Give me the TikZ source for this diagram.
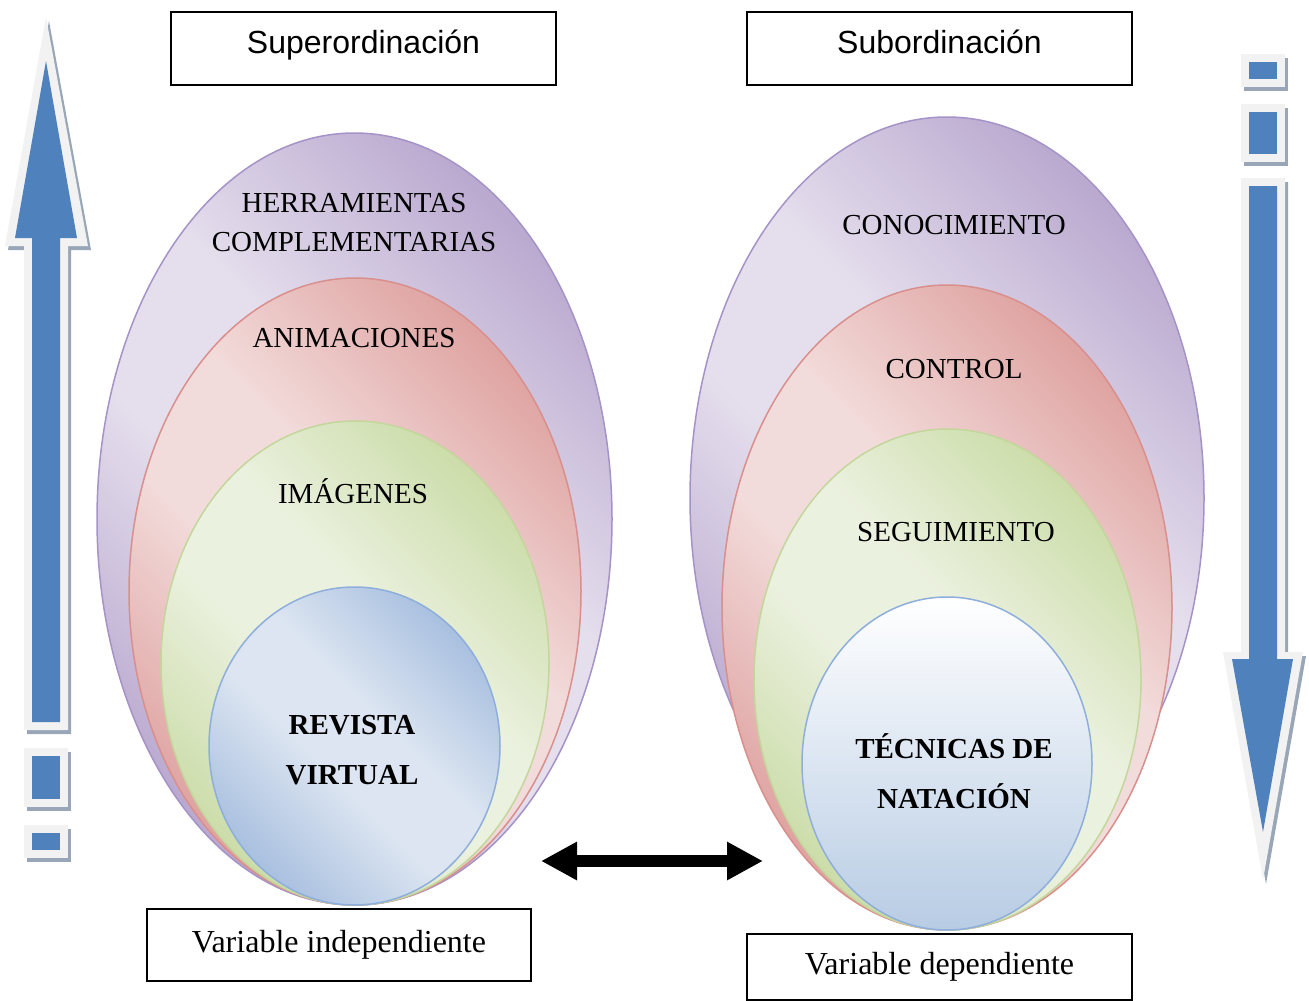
\documentclass[tikz,border=0pt]{standalone}
\usepackage{fontspec}
\setmainfont{Liberation Serif}
\setsansfont{Liberation Sans}
\usetikzlibrary{arrows.meta}

\definecolor{purplight}{HTML}{E5DFED}
\definecolor{purpdark}{HTML}{BBAAD0}
\definecolor{purpline}{HTML}{A593C7}
\definecolor{redlight}{HTML}{F2DCDB}
\definecolor{reddark}{HTML}{DFA4A2}
\definecolor{redline}{HTML}{D98F8C}
\definecolor{greenlight}{HTML}{EBF1DF}
\definecolor{greendark}{HTML}{CCDDAA}
\definecolor{greenline}{HTML}{C3D69B}
\definecolor{bluelight}{HTML}{DCE5F1}
\definecolor{bluedark}{HTML}{A9C0E0}
\definecolor{blueline}{HTML}{8EAEDB}
\definecolor{bluebottom}{HTML}{B8CCE4}
\definecolor{arrowblue}{HTML}{4F81BD}
\definecolor{arrowrim}{HTML}{F2F2F2}
\definecolor{arrowshadow}{HTML}{98A6B8}

\pgfdeclarehorizontalshading{purpshade}{100bp}{color(0bp)=(purpdark); color(25bp)=(purpdark); color(44bp)=(purplight); color(56bp)=(purplight); color(75bp)=(purpdark); color(100bp)=(purpdark)}
\pgfdeclarehorizontalshading{redshade}{100bp}{color(0bp)=(reddark); color(25bp)=(reddark); color(44bp)=(redlight); color(56bp)=(redlight); color(75bp)=(reddark); color(100bp)=(reddark)}
\pgfdeclarehorizontalshading{greenshade}{100bp}{color(0bp)=(greendark); color(25bp)=(greendark); color(44bp)=(greenlight); color(56bp)=(greenlight); color(75bp)=(greendark); color(100bp)=(greendark)}
\pgfdeclarehorizontalshading{blueshade}{100bp}{color(0bp)=(bluedark); color(25bp)=(bluedark); color(44bp)=(bluelight); color(56bp)=(bluelight); color(75bp)=(bluedark); color(100bp)=(bluedark)}

\begin{document}
\begin{tikzpicture}[x=1pt,y=-1pt,
    every node/.style={inner sep=0pt},
    ring/.style={line width=1.5pt, shade, shading angle=45},
    lbl/.style={font=\fontsize{29}{39}\selectfont, anchor=base, align=center},
    boldlbl/.style={lbl, font=\fontsize{29}{50}\selectfont\bfseries},
    headbox/.style={draw, line width=1.3pt, minimum width=385pt, minimum height=73pt,
        font=\sffamily\fontsize{32}{38}\selectfont, text height=24pt, text depth=14pt},
    footbox/.style={draw, line width=1.3pt, minimum width=384pt,
        font=\fontsize{32}{38}\selectfont}]
\useasboundingbox (0,0) rectangle (1309,1001);

%the left stack of ellipses
    \path[ring, draw=purpline, shading=purpshade] (354.5,519) ellipse [x radius=257.5, y radius=386];
    \path[ring, draw=redline, shading=redshade] (355,591.5) ellipse [x radius=226, y radius=313.5];
    \path[ring, draw=greenline, shading=greenshade] (355,663) ellipse [x radius=194, y radius=242];
    \path[ring, draw=blueline, shading=blueshade] (354.5,746) ellipse [x radius=145.5, y radius=159];

%the right stack of ellipses
    \path[ring, draw=purpline, shading=purpshade] (947,498) ellipse [x radius=257, y radius=381];
    \path[ring, draw=redline, shading=redshade] (947,607.5) ellipse [x radius=225, y radius=322.5];
    \path[ring, draw=greenline, shading=greenshade] (947.5,679.5) ellipse [x radius=193.5, y radius=250.5];
    \path[line width=1.5pt, draw=blueline, top color=white, middle color=white!55!bluebottom, bottom color=bluebottom] (947,763.5) ellipse [x radius=145, y radius=166.5];

%the labels, left (base = last line)
    \node[lbl] (herr) at (354,251.5) {HERRAMIENTAS\\COMPLEMENTARIAS};
    \node[lbl] (anim) at (354,347.5) {ANIMACIONES};
    \node[lbl] (imag) at (353,503.5) {IMÁGENES};
    \node[boldlbl] (rev) at (352,784) {REVISTA\\VIRTUAL};

%the labels, right
    \node[lbl] (cono) at (954,234.5) {CONOCIMIENTO};
    \node[lbl] (cont) at (954,378.5) {CONTROL};
    \node[lbl] (segu) at (956,541.5) {SEGUIMIENTO};
    \node[boldlbl] (tec) at (954,808) {TÉCNICAS DE\\NATACIÓN};

%the boxes
    \node[headbox] (super) at (363.5,48.5) {Superordinación};
    \node[headbox] (sub) at (939.5,48.5) {Subordinación};
    \node[footbox, minimum height=72pt] (indep) at (339,945) {Variable independiente};
    \node[footbox, minimum width=385pt, minimum height=66pt] (dep) at (939.5,967) {Variable dependiente};

%the arrow between the two stacks
    \coordinate (from) at (541,861);
    \coordinate (to) at (763,861);
    \draw[line width=12pt, {Triangle[length=36pt,width=36pt]}-{Triangle[length=36pt,width=36pt]}] (from) -- (to);

%the arrow going up, left
  \begin{scope}[shift={(3,4)}]
    \fill[arrowshadow] (46,17) -- (88,246) -- (68,246) -- (68,730) -- (24,730) -- (24,246) -- (5,246) -- cycle;
    \fill[arrowshadow] (24,748) rectangle (68,807);
    \fill[arrowshadow] (24,825) rectangle (68,858);
  \end{scope}
    \fill[arrowrim] (46,17) -- (88,246) -- (68,246) -- (68,730) -- (24,730) -- (24,246) -- (5,246) -- cycle;
    \fill[arrowrim] (24,748) rectangle (68,807);
    \fill[arrowrim] (24,825) rectangle (68,858);
    \fill[arrowblue] (46,61) -- (77,238) -- (60,238) -- (60,722) -- (32,722) -- (32,238) -- (15,238) -- cycle;
    \fill[arrowblue] (32,756) rectangle (60,799);
    \fill[arrowblue] (32,833) rectangle (60,850);

%the arrow going down, right
  \begin{scope}[shift={(3,4)}]
    \fill[arrowshadow] (1241,54) rectangle (1285,87);
    \fill[arrowshadow] (1241,104) rectangle (1285,162);
    \fill[arrowshadow] (1241,178) -- (1285,178) -- (1285,652) -- (1303,652) -- (1263,880) -- (1223,652) -- (1241,652) -- cycle;
  \end{scope}
    \fill[arrowrim] (1241,54) rectangle (1285,87);
    \fill[arrowrim] (1241,104) rectangle (1285,162);
    \fill[arrowrim] (1241,178) -- (1285,178) -- (1285,652) -- (1303,652) -- (1263,880) -- (1223,652) -- (1241,652) -- cycle;
    \fill[arrowblue] (1249,62) rectangle (1277,79);
    \fill[arrowblue] (1249,112) rectangle (1277,154);
    \fill[arrowblue] (1249,186) -- (1277,186) -- (1277,659) -- (1293,659) -- (1263,832) -- (1232,659) -- (1249,659) -- cycle;
\end{tikzpicture}
\end{document}
